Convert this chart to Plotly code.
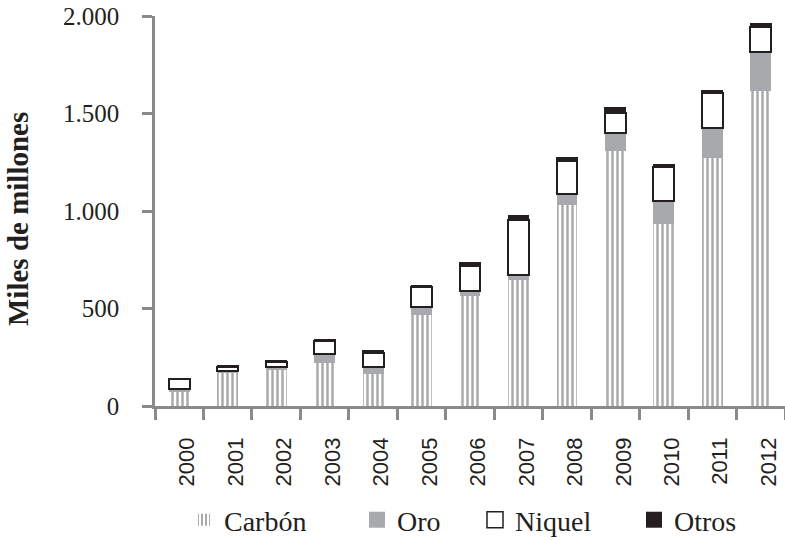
import plotly.graph_objects as go

years = ["2000", "2001", "2002", "2003", "2004", "2005", "2006",
         "2007", "2008", "2009", "2010", "2011", "2012"]
carbon = [70, 173, 185, 220, 165, 467, 565, 646, 1030, 1310, 933, 1273, 1615]
oro = [16, 8, 14, 47, 33, 40, 25, 26, 55, 92, 118, 154, 199]
niquel = [50, 21, 27, 65, 76, 105, 130, 282, 172, 102, 176, 177, 131]
otros = [6, 8, 7, 10, 10, 8, 17, 22, 15, 28, 9, 13, 17]
y_ticks = [0, 500, 1000, 1500, 2000]
y_title = "Miles de millones"

serif = "Palatino Linotype, Book Antiqua, Liberation Serif, DejaVu Serif, serif"
sans = "Arial, Liberation Sans, Helvetica, sans-serif"
ink = "#231f20"
axis_gray = "#8a8a8a"
oro_gray = "#a7a9ac"
bar_w = 0.43

fig = go.Figure()
fig.add_trace(go.Bar(
    name="Carbón", x=years, y=carbon, width=bar_w, legend="legend",
    marker=dict(color="white", line=dict(width=0),
                pattern=dict(shape="|", fgcolor="#555555", bgcolor="white",
                             size=5, solidity=0.5)),
))
fig.add_trace(go.Bar(
    name="Oro", x=years, y=oro, width=bar_w, showlegend=False,
    marker=dict(color=oro_gray, line=dict(width=0)),
))
fig.add_trace(go.Bar(
    name="Niquel", x=years, y=niquel, width=bar_w, showlegend=False,
    marker=dict(color="white", line=dict(color=ink, width=2)),
))
fig.add_trace(go.Bar(
    name="Otros", x=years, y=otros, width=bar_w, showlegend=False,
    marker=dict(color=ink, line=dict(color=ink, width=1)),
))

# legend-only entries with larger square swatches
legend_items = [
    ("Oro", oro_gray, oro_gray, 0, "legend2"),
    ("Niquel", "white", ink, 1.5, "legend3"),
    ("Otros", ink, ink, 0, "legend4"),
]
for name, fill, edge, lw, lg in legend_items:
    fig.add_trace(go.Scatter(
        x=[None], y=[None], mode="markers", name=name, legend=lg,
        marker=dict(symbol="square", size=19, color=fill,
                    line=dict(color=edge, width=lw)),
    ))

leg_common = dict(orientation="h", xref="container", yref="container",
                  xanchor="left", yanchor="middle", y=0.037,
                  bgcolor="rgba(0,0,0,0)", borderwidth=0,
                  font=dict(size=28, family=serif, color=ink), itemwidth=30)

fig.update_layout(
    barmode="stack",
    width=785, height=540,
    margin=dict(l=155, r=0, t=16, b=134, pad=0, autoexpand=False),
    paper_bgcolor="white", plot_bgcolor="white",
    separators=",.",
    font=dict(family=serif, color=ink, size=20),
    showlegend=True,
    legend=dict(x=184 / 785, **leg_common),
    legend2=dict(x=357 / 785, **leg_common),
    legend3=dict(x=475 / 785, **leg_common),
    legend4=dict(x=634 / 785, **leg_common),
)
fig.add_annotation(
    text="<b>" + y_title + "</b>", textangle=-90,
    xref="paper", yref="paper", x=(18 - 155) / 630, y=(406 - 219) / 390,
    xanchor="center", yanchor="middle", showarrow=False,
    font=dict(size=29, family=serif, color=ink),
)
fig.update_xaxes(
    type="category", showline=True, linecolor=axis_gray, linewidth=2.5,
    ticks="outside", tickson="boundaries", ticklen=11, tickwidth=2.5, tickcolor=axis_gray,
    tickangle=-90, tickfont=dict(size=22, family=sans, color=ink),
    ticklabelstandoff=20, ticklabelshift=8,
    showgrid=False, range=[-0.5, 12.5],
)
fig.update_yaxes(
    range=[0, 2000], tickvals=y_ticks, tickformat=",d",
    showline=True, linecolor=axis_gray, linewidth=2.5,
    ticks="outside", ticklen=10, tickwidth=2.5, tickcolor=axis_gray,
    tickfont=dict(size=25, family=serif, color=ink),
    ticklabelstandoff=18,
    showgrid=False, zeroline=False,
)

fig.write_html("out.html", config={"displayModeBar": False},
               post_script="document.body.style.margin='0';")
